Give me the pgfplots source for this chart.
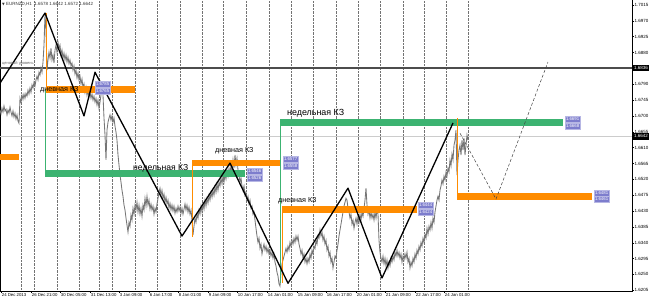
\documentclass[border=0pt]{standalone}
\usepackage{fontspec}
\setmainfont{Liberation Sans}
\newfontfamily\sym{DejaVu Sans}
\usepackage{pgfplots}
\usepackage{pgfplotstable}
\pgfplotsset{compat=1.18}
\definecolor{zorange}{RGB}{255,140,0}
\definecolor{zgreen}{RGB}{60,179,113}
\definecolor{zlbl}{RGB}{125,125,205}
\definecolor{pgrey}{RGB}{118,118,118}
\pgfplotstableread{
x y
0 1.6717
1 1.6706
2 1.6722
3 1.6711
4 1.6728
5 1.6714
6 1.6719
7 1.6703
8 1.6717
9 1.6708
10 1.6725
11 1.6711
12 1.6700
13 1.6714
14 1.6697
15 1.6708
16 1.6691
17 1.6703
18 1.6685
19 1.6679
20 1.6750
21 1.6739
22 1.6759
23 1.6747
24 1.6762
25 1.6750
26 1.6764
27 1.6756
28 1.6773
29 1.6762
30 1.6779
31 1.6767
32 1.6788
33 1.6779
34 1.6796
35 1.6785
36 1.6802
37 1.6813
38 1.6802
39 1.6824
40 1.6816
41 1.6836
42 1.6824
43 1.6853
44 1.6901
45 1.6987
46 1.6944
47 1.6830
48 1.6859
49 1.6881
50 1.6864
51 1.6892
52 1.6859
53 1.6873
54 1.6850
55 1.6887
56 1.6901
57 1.6881
58 1.6909
59 1.6892
60 1.6901
61 1.6873
62 1.6887
63 1.6864
64 1.6878
65 1.6859
66 1.6873
67 1.6853
68 1.6867
69 1.6848
70 1.6859
71 1.6842
72 1.6850
73 1.6830
74 1.6842
75 1.6819
76 1.6830
77 1.6808
78 1.6822
79 1.6802
80 1.6813
81 1.6791
82 1.6805
83 1.6779
84 1.6791
85 1.6767
86 1.6782
87 1.6759
88 1.6773
89 1.6753
90 1.6767
91 1.6750
92 1.6762
93 1.6745
94 1.6756
95 1.6739
96 1.6750
97 1.6731
98 1.6745
99 1.6722
100 1.6739
101 1.6759
102 1.6788
103 1.6759
104 1.6694
105 1.6646
106 1.6575
107 1.6660
108 1.6682
109 1.6694
110 1.6703
111 1.6688
112 1.6700
113 1.6682
114 1.6694
115 1.6671
116 1.6654
117 1.6631
118 1.6589
119 1.6561
120 1.6532
121 1.6512
122 1.6489
123 1.6472
124 1.6447
125 1.6433
126 1.6410
127 1.6390
128 1.6370
129 1.6398
130 1.6387
131 1.6419
132 1.6404
133 1.6438
134 1.6421
135 1.6447
136 1.6433
137 1.6455
138 1.6427
139 1.6447
140 1.6421
141 1.6438
142 1.6415
143 1.6447
144 1.6433
145 1.6466
146 1.6444
147 1.6472
148 1.6447
149 1.6461
150 1.6435
151 1.6450
152 1.6433
153 1.6444
154 1.6421
155 1.6438
156 1.6427
157 1.6450
158 1.6466
159 1.6483
160 1.6495
161 1.6475
162 1.6489
163 1.6466
164 1.6478
165 1.6455
166 1.6469
167 1.6450
168 1.6461
169 1.6438
170 1.6452
171 1.6433
172 1.6447
173 1.6430
174 1.6444
175 1.6424
176 1.6438
177 1.6427
178 1.6444
179 1.6430
180 1.6441
181 1.6424
182 1.6438
183 1.6421
184 1.6435
185 1.6450
186 1.6433
187 1.6447
188 1.6427
189 1.6441
190 1.6421
191 1.6433
192 1.6404
193 1.6362
194 1.6387
195 1.6410
196 1.6398
197 1.6421
198 1.6410
199 1.6433
200 1.6421
201 1.6444
202 1.6427
203 1.6450
204 1.6435
205 1.6461
206 1.6444
207 1.6466
208 1.6452
209 1.6475
210 1.6461
211 1.6483
212 1.6469
213 1.6489
214 1.6475
215 1.6498
216 1.6483
217 1.6507
218 1.6489
219 1.6512
220 1.6501
221 1.6524
222 1.6507
223 1.6529
224 1.6512
225 1.6535
226 1.6521
227 1.6546
228 1.6529
229 1.6552
230 1.6535
231 1.6561
232 1.6541
233 1.6575
234 1.6552
235 1.6589
236 1.6561
237 1.6580
238 1.6546
239 1.6532
240 1.6512
241 1.6524
242 1.6501
243 1.6489
244 1.6501
245 1.6475
246 1.6483
247 1.6461
248 1.6472
249 1.6450
250 1.6461
251 1.6438
252 1.6444
253 1.6421
254 1.6427
255 1.6404
256 1.6381
257 1.6359
258 1.6341
259 1.6353
260 1.6324
261 1.6336
262 1.6308
263 1.6324
264 1.6336
265 1.6319
266 1.6330
267 1.6313
268 1.6324
269 1.6308
270 1.6319
271 1.6302
272 1.6313
273 1.6296
274 1.6308
275 1.6285
276 1.6274
277 1.6256
278 1.6245
279 1.6223
280 1.6217
281 1.6256
282 1.6280
283 1.6291
284 1.6302
285 1.6313
286 1.6324
287 1.6313
288 1.6330
289 1.6319
290 1.6341
291 1.6330
292 1.6347
293 1.6336
294 1.6353
295 1.6341
296 1.6359
297 1.6347
298 1.6359
299 1.6336
300 1.6324
301 1.6308
302 1.6319
303 1.6296
304 1.6308
305 1.6285
306 1.6296
307 1.6280
308 1.6296
309 1.6285
310 1.6308
311 1.6296
312 1.6319
313 1.6308
314 1.6330
315 1.6324
316 1.6347
317 1.6336
318 1.6359
319 1.6353
320 1.6376
321 1.6359
322 1.6370
323 1.6347
324 1.6359
325 1.6336
326 1.6347
327 1.6319
328 1.6330
329 1.6302
330 1.6313
331 1.6285
332 1.6296
333 1.6268
334 1.6285
335 1.6302
336 1.6296
337 1.6319
338 1.6336
339 1.6359
340 1.6376
341 1.6393
342 1.6410
343 1.6427
344 1.6444
345 1.6455
346 1.6466
347 1.6461
348 1.6438
349 1.6427
350 1.6410
351 1.6421
352 1.6393
353 1.6404
354 1.6381
355 1.6398
356 1.6410
357 1.6393
358 1.6415
359 1.6398
360 1.6421
361 1.6404
362 1.6427
363 1.6415
364 1.6438
365 1.6461
366 1.6495
367 1.6447
368 1.6421
369 1.6433
370 1.6410
371 1.6427
372 1.6410
373 1.6421
374 1.6404
375 1.6427
376 1.6410
377 1.6433
378 1.6421
379 1.6347
380 1.6313
381 1.6296
382 1.6285
383 1.6302
384 1.6280
385 1.6296
386 1.6274
387 1.6291
388 1.6268
389 1.6285
390 1.6274
391 1.6296
392 1.6285
393 1.6302
394 1.6291
395 1.6313
396 1.6302
397 1.6319
398 1.6302
399 1.6313
400 1.6296
401 1.6308
402 1.6285
403 1.6302
404 1.6291
405 1.6308
406 1.6296
407 1.6313
408 1.6285
409 1.6296
410 1.6268
411 1.6285
412 1.6274
413 1.6296
414 1.6285
415 1.6308
416 1.6296
417 1.6319
418 1.6308
419 1.6330
420 1.6319
421 1.6341
422 1.6330
423 1.6353
424 1.6341
425 1.6364
426 1.6353
427 1.6381
428 1.6364
429 1.6387
430 1.6376
431 1.6398
432 1.6381
433 1.6410
434 1.6398
435 1.6427
436 1.6444
437 1.6461
438 1.6472
439 1.6461
440 1.6489
441 1.6501
442 1.6518
443 1.6507
444 1.6529
445 1.6518
446 1.6541
447 1.6529
448 1.6552
449 1.6541
450 1.6575
451 1.6558
452 1.6592
453 1.6575
454 1.6617
455 1.6631
456 1.6660
457 1.6532
458 1.6575
459 1.6603
460 1.6617
461 1.6589
462 1.6631
463 1.6603
464 1.6637
465 1.6589
466 1.6617
467 1.6646
468 1.6631
}\pricetable
\tikzset{
  lbl/.style={fill=zlbl, draw=zlbl!55!white, line width=0.4pt, text=white,
    font=\fontsize{4.3}{4.5}\selectfont, inner xsep=0.8pt, inner ysep=0.5pt,
    minimum height=6pt, anchor=west},
  blk/.style={fill=black, text=white, font=\fontsize{4.5}{5}\selectfont,
    inner xsep=0.8pt, inner ysep=0.6pt, minimum height=6.5pt, anchor=west},
  zt/.style={text=black, inner sep=0pt, anchor=west}
}
\begin{document}
\begin{tikzpicture}
\begin{axis}[
  at={(0pt,10pt)}, anchor=south west,
  scale only axis, width=632pt, height=291pt,
  xmin=0, xmax=632, ymin=1.6203, ymax=1.7029,
  clip=false,
  axis line style={draw=none},
  tick align=outside, major tick length=2pt,
  tick style={black, line width=0.4pt},
  xtick pos=bottom, ytick pos=right, yticklabel pos=right,
  xtick={1,31,60,90,119,149,178,208,237,267,297,326,356,385,415,444},
  xticklabels={24 Dec 2013,26 Dec 21:00,30 Dec 05:00,31 Dec 13:00,3 Jan 09:00,6 Jan 17:00,8 Jan 01:00,9 Jan 09:00,10 Jan 17:00,14 Jan 01:00,15 Jan 09:00,16 Jan 17:00,20 Jan 01:00,21 Jan 09:00,22 Jan 17:00,24 Jan 01:00},
  xticklabel style={anchor=north west, xshift=-0.3pt, yshift=1pt, font=\fontsize{4.3}{4.5}\selectfont, inner sep=1pt},
  ytick={1.6205,1.6250,1.6295,1.6340,1.6385,1.6430,1.6475,1.6520,1.6565,1.6610,1.6655,1.6700,1.6745,1.6790,1.6880,1.6925,1.6970,1.7015},
  yticklabel style={anchor=west, xshift=-0.5pt, font=\fontsize{4.5}{5}\selectfont, inner sep=1pt,
    /pgf/number format/.cd, fixed, fixed zerofill, precision=4},
  /pgf/number format/assume math mode=true,
  scaled y ticks=false,
  extra x ticks={21,34,57,79,99,112,135,157,180,202,223,246,269,291,313,336,358,380,403,424,446,468},
  extra x tick labels={},
  extra x tick style={grid=major, major tick length=0pt, major grid style={densely dotted, black!55, line width=0.5pt}},
]
% frame
\draw[black, line width=0.5pt] (rel axis cs:0,1) -- (rel axis cs:0,0) -- (rel axis cs:1,0) -- (rel axis cs:1,1);
% horizontal lines
\addplot[draw=black!70, line width=1.1pt] coordinates {(0,1.6836) (632,1.6836)};
\addplot[draw=black!20, line width=0.5pt] coordinates {(0,1.6642) (632,1.6642)};
% price
\addplot[draw=pgrey, line width=0.85pt] table[x=x, y=y] {\pricetable};
% zones
\addplot[draw=zorange, line width=6pt] coordinates {(0,1.6583) (19,1.6583)};
\addplot[draw=zorange, line width=1.4pt] coordinates {(46.5,1.6992) (46.5,1.6776)};
\addplot[draw=zorange, line width=7pt] coordinates {(46,1.6775) (135,1.6775)};
\addplot[draw=zgreen, line width=1.4pt] coordinates {(45.5,1.6776) (45.5,1.6536)};
\addplot[draw=zgreen, line width=7pt] coordinates {(45,1.6536) (245,1.6536)};
\addplot[draw=zorange, line width=1.4pt] coordinates {(192.5,1.6566) (192.5,1.6356)};
\addplot[draw=zorange, line width=6.5pt] coordinates {(192,1.6567) (281,1.6567)};
\addplot[draw=zgreen, line width=1.4pt] coordinates {(280.5,1.6680) (280.5,1.6225)};
\addplot[draw=zgreen, line width=7pt] coordinates {(280,1.6680) (563,1.6680)};
\addplot[draw=zorange, line width=1.4pt] coordinates {(282.5,1.6434) (282.5,1.6225)};
\addplot[draw=zorange, line width=6.5pt] coordinates {(282,1.6434) (417,1.6434)};
\addplot[draw=zorange, line width=1.4pt] coordinates {(457.5,1.6694) (457.5,1.6471)};
\addplot[draw=zorange, line width=6.5pt] coordinates {(457,1.6471) (592,1.6471)};
% zigzag
\addplot[draw=black, line width=1.3pt, line join=round] coordinates {(0,1.6793) (45,1.6992) (84,1.6700) (95,1.6824) (182,1.6359) (230,1.6566) (288,1.6225) (348,1.6495) (382,1.6240) (453,1.6680)};
\addplot[draw=black!75, line width=0.5pt, dash pattern=on 3pt off 2pt] coordinates {(460,1.6651) (496,1.6464) (548,1.6853)};
% texts
\node[zt, font=\fontsize{7.2}{8}\selectfont] at (axis cs:40,1.6773) {дневная КЗ};
\node[zt, font=\fontsize{8.6}{9}\selectfont] at (axis cs:133,1.6552) {недельная КЗ};
\node[zt, font=\fontsize{7.2}{8}\selectfont] at (axis cs:215,1.6600) {дневная КЗ};
\node[zt, font=\fontsize{8.9}{9}\selectfont] at (axis cs:287,1.6708) {недельная КЗ};
\node[zt, font=\fontsize{7.2}{8}\selectfont] at (axis cs:278,1.6458) {дневная КЗ};
% zone price labels
\node[lbl] at (axis cs:95,1.6791) {1.6785};
\node[lbl] at (axis cs:95,1.6771) {1.6765};
\node[lbl] at (axis cs:247,1.6543) {1.6546};
\node[lbl] at (axis cs:247,1.6523) {1.6526};
\node[lbl] at (axis cs:283,1.6577) {1.6577};
\node[lbl] at (axis cs:283,1.6558) {1.6558};
\node[lbl] at (axis cs:565,1.6691) {1.6691};
\node[lbl] at (axis cs:565,1.6671) {1.6668};
\node[lbl] at (axis cs:418,1.6447) {1.6444};
\node[lbl] at (axis cs:418,1.6427) {1.6424};
\node[lbl] at (axis cs:594,1.6481) {1.6481};
\node[lbl] at (axis cs:594,1.6464) {1.6461};
% right price boxes
\node[blk] at (axis cs:633,1.6836) {1.6836};
\node[blk] at (axis cs:633,1.6642) {1.6642};
% header
\node[anchor=west, inner sep=0pt, font=\fontsize{4.5}{5}\selectfont, text=black!80] at (axis cs:2,1.7017) {{\sym\fontsize{3.5}{4}\selectfont ▼} EURNZD,H1\ \ 1.6578 1.6642 1.6572 1.6642};
\node[anchor=west, inner sep=0pt, font=\fontsize{4}{4.5}\selectfont, text=black!60] at (axis cs:2,1.6848) {ценовой уровень};
\end{axis}
\pgfresetboundingbox
\useasboundingbox (0,0) rectangle (650pt,301pt);
\end{tikzpicture}
\end{document}
